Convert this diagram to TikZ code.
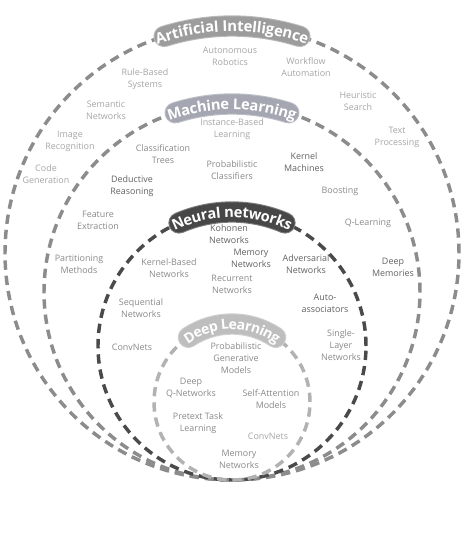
\documentclass[tikz,border=0pt]{standalone}
\usepackage{fontspec}
\setmainfont{Open Sans}
\usetikzlibrary{decorations.text}
\definecolor{aiband}{HTML}{9C9C9C}
\definecolor{mlband}{HTML}{A4A7B1}
\definecolor{nnband}{HTML}{474747}
\definecolor{dlband}{HTML}{BEBEBE}
\definecolor{ailine}{HTML}{8C8C8C}
\definecolor{mlline}{HTML}{8C8C8C}
\definecolor{nnline}{HTML}{4A4A4A}
\definecolor{dlline}{HTML}{B2B2B2}
\definecolor{lightlbl}{HTML}{A6A6A6}
\definecolor{midlbl}{HTML}{8A8A8A}
\definecolor{darklbl}{HTML}{626262}
\tikzset{
  ringline/.style={line width=2.6pt, dash pattern=on 7pt off 4.5pt},
  lbl/.style={font=\fontsize{6.7}{9}\selectfont, align=center, inner sep=0pt},
  bandline/.style={line width=14.5pt, line cap=round},
}
% #1 centre y, #2 radius, #3 start angle, #4 end angle, #5 colour, #6 font size, #7 text, #8 text start, #9 text end
\newcommand{\drawbanner}[9]{%
  \draw[bandline, draw=#5!70!white, line width=16pt] ([shift={(232,#1)}]#3:#2) arc[start angle=#3, end angle=#4, radius=#2];
  \draw[bandline, draw=#5] ([shift={(232,#1)}]#3:#2) arc[start angle=#3, end angle=#4, radius=#2];
  \path[decorate, decoration={text along path, text align=center, raise=-4pt,
    text={|\color{white}\fontsize{#6}{#6}\selectfont\bfseries|#7}}]
    ([shift={(232,#1)}]#8:#2) arc[start angle=#8, end angle=#9, radius=#2];
}
\begin{document}
\begin{tikzpicture}[x=0.75pt, y=0.75pt]
\useasboundingbox (0,0) rectangle (464,537);
\fill[white] (0,0) rectangle (464,537);
% rings
\draw[ringline, ailine] (232,284) circle[radius=227];
\draw[ringline, mlline] (232,245) circle[radius=188];
\draw[ringline, nnline] (232,191) circle[radius=134];
\draw[ringline, dlline] (232,135) circle[radius=78];
% banners
\drawbanner{284}{227}{107.4}{72.6}{aiband}{11.2}{Artificial Intelligence}{113}{67}
\drawbanner{245}{188}{107.6}{72.4}{mlband}{11}{Machine Learning}{115}{65}
\drawbanner{191}{134}{113.3}{66.7}{nnband}{11}{Neural networks}{123}{57}
\drawbanner{135}{78}{124}{56}{dlband}{10.5}{Deep Learning}{140}{40}
% AI ring
\node[lbl, text=lightlbl] (a1) at (230,481) {Autonomous\\Robotics};
\node[lbl, text=lightlbl] (a2) at (306,470) {Workflow\\Automation};
\node[lbl, text=lightlbl] (a3) at (145,458) {Rule-Based\\Systems};
\node[lbl, text=lightlbl] (a4) at (358,436) {Heuristic\\Search};
\node[lbl, text=lightlbl] (a5) at (106,427) {Semantic\\Networks};
\node[lbl, text=lightlbl] (a6) at (70,396) {Image\\Recognition};
\node[lbl, text=lightlbl] (a7) at (397,400) {Text\\Processing};
\node[lbl, text=lightlbl] (a8) at (46,363) {Code\\Generation};
% ML ring
\node[lbl, text=lightlbl] (m1) at (232,408) {Instance-Based\\Learning};
\node[lbl, text=midlbl] (m2) at (163,383) {Classification\\Trees};
\node[lbl, text=midlbl] (m3) at (232,367) {Probabilistic\\Classifiers};
\node[lbl, text=darklbl] (m4) at (304,375) {Kernel\\Machines};
\node[lbl, text=darklbl] (m5) at (132,351) {Deductive\\Reasoning};
\node[lbl, text=midlbl] (m6) at (340,346) {Boosting};
\node[lbl, text=midlbl] (m7) at (98,317) {Feature\\Extraction};
\node[lbl, text=midlbl] (m8) at (368,314) {Q-Learning};
\node[lbl, text=midlbl] (m9) at (79,273) {Partitioning\\Methods};
\node[lbl, text=darklbl] (m10) at (393,270) {Deep\\Memories};
\node[lbl, text=midlbl] (m11) at (132,190) {ConvNets};
% NN ring
\node[lbl, text=darklbl] (n1) at (229,303) {Kohonen\\Networks};
\node[lbl, text=darklbl] (n2) at (251,279) {Memory\\Networks};
\node[lbl, text=midlbl] (n3) at (169,269) {Kernel-Based\\Networks};
\node[lbl, text=midlbl] (n4) at (232,253) {Recurrent\\Networks};
\node[lbl, text=darklbl] (n5) at (306,273) {Adversarial\\Networks};
\node[lbl, text=midlbl] (n6) at (141,229) {Sequential\\Networks};
\node[lbl, text=darklbl] (n7) at (325,234) {Auto-\\associators};
\node[lbl, text=midlbl] (n8) at (341,192) {Single-\\Layer\\Networks};
% DL
\node[lbl, text=midlbl] (d1) at (236,179) {Probabilistic\\Generative\\Models};
\node[lbl, text=midlbl] (d2) at (191,149) {Deep\\Q-Networks};
\node[lbl, text=midlbl] (d3) at (271,138) {Self-Attention\\Models};
\node[lbl, text=midlbl] (d4) at (198,114) {Pretext Task\\Learning};
\node[lbl, text=lightlbl] (d5) at (268,101) {ConvNets};
\node[lbl, text=midlbl] (d6) at (239,78) {Memory\\Networks};
\end{tikzpicture}
\end{document}
